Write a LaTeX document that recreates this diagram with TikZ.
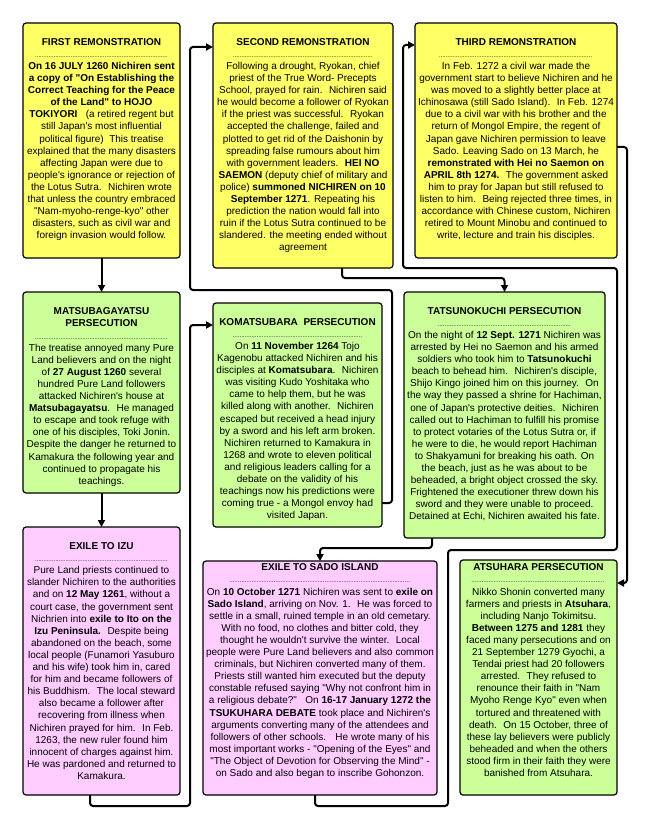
\documentclass[tikz,border=0pt]{standalone}
\usepackage{fontspec}
\newfontfamily\eventfont{Liberation Sans}
\usetikzlibrary{positioning, arrows.meta}
\definecolor{remyellow}{HTML}{FFFF66}
\definecolor{persgreen}{HTML}{CCFF99}
\definecolor{exilepink}{HTML}{FFCCFF}
\tikzset{
    event box/.style = {draw, line width=1.2pt, rounded corners=3pt, outer sep=0pt, inner sep=0pt, anchor=north west},
    remonstration/.style = {event box, fill=remyellow},
    persecution/.style = {event box, fill=persgreen},
    exile/.style = {event box, fill=exilepink},
    event text/.style = {inner sep=0pt, align=center, font=\eventfont\fontsize{10}{12.1}\selectfont},
}
\tikzset{
    flow/.style = {draw, line width=2pt, rounded corners=3pt, -{Triangle[length=7pt,width=7pt]}},
}
\newcommand{\dotrule}[1]{{\fontsize{7}{7}\selectfont\color{black!75}\leaders\hbox to 1.7pt{\hss.\hss}\hskip #1\relax}}

\begin{document}
\begin{tikzpicture}[x=1pt, y=1pt]
    \useasboundingbox (0,0) rectangle (650,-829);

    \node[remonstration, minimum width=157pt, minimum height=235pt] (first) at (23,-23) {};
    \node[remonstration, minimum width=180pt, minimum height=245pt] (second) at (213,-23) {};
    \node[remonstration, minimum width=202pt, minimum height=235pt] (third) at (415,-23) {};
    \node[persecution, minimum width=157pt, minimum height=201pt] (matsu) at (23,-292) {};
    \node[persecution, minimum width=169pt, minimum height=224pt] (komatsu) at (213,-303) {};
    \node[persecution, minimum width=201pt, minimum height=246pt] (tatsu) at (404,-292) {};
    \node[exile, minimum width=157pt, minimum height=268pt] (izu) at (23,-527) {};
    \node[exile, minimum width=234pt, minimum height=234pt] (sado) at (203,-561) {};
    \node[persecution, minimum width=157pt, minimum height=235pt] (atsu) at (460,-560) {};

    \node[event text, below=15.1pt of first.north] (firsttxt) {\textbf{FIRST REMONSTRATION}\\
        \dotrule{133pt}\\
        \textbf{On 16 JULY 1260 Nichiren sent}\\
        \textbf{a copy of "On Establishing the}\\
        \textbf{Correct Teaching for the Peace}\\
        \textbf{of the Land" to HOJO}\\
        \textbf{TOKIYORI}~~ (a retired regent but\\
        still Japan's most influential\\
        political figure)~ This treatise\\
        explained that the many disasters\\
        affecting Japan were due to\\
        people's ignorance or rejection of\\
        the Lotus Sutra.~ Nichiren wrote\\
        that unless the country embraced\\
        "Nam-myoho-renge-kyo" other\\
        disasters, such as civil war and\\
        foreign invasion would follow.};

    \node[event text, below=15.1pt of second.north] (secondtxt) {\textbf{SECOND REMONSTRATION}\\
        \dotrule{140pt}\\
        Following a drought, Ryokan, chief\\
        priest of the True Word- Precepts\\
        School, prayed for rain.~ Nichiren said\\
        he would become a follower of Ryokan\\
        if the priest was successful.~ Ryokan\\
        accepted the challenge, failed and\\
        plotted to get rid of the Daishonin by\\
        spreading false rumours about him\\
        with government leaders.~ \textbf{HEI NO}\\
        \textbf{SAEMON} (deputy chief of military and\\
        police) \textbf{summoned NICHIREN on 10}\\
        \textbf{September 1271}. Repeating his\\
        prediction the nation would fall into\\
        ruin if the Lotus Sutra continued to be\\
        slandered. the meeting ended without\\
        agreement};

    \node[event text, below=15.1pt of third.north] (thirdtxt) {\textbf{THIRD REMONSTRATION}\\
        \dotrule{154pt}\\
        In Feb. 1272 a civil war made the\\
        government start to believe Nichiren and he\\
        was moved to a slightly better place at\\
        Ichinosawa (still Sado Island).~ In Feb. 1274\\
        due to a civil war with his brother and the\\
        return of Mongol Empire, the regent of\\
        Japan gave Nichiren permission to leave\\
        Sado. Leaving Sado on 13 March, he\\
        \textbf{remonstrated with Hei no Saemon on}\\
        \textbf{APRIL 8th 1274.}~ The government asked\\
        him to pray for Japan but still refused to\\
        listen to him.~ Being rejected three times, in\\
        accordance with Chinese custom, Nichiren\\
        retired to Mount Minobu and continued to\\
        write, lecture and train his disciples.};

    \node[event text, below=15.7pt of matsu.north] (matsutxt) {\textbf{MATSUBAGAYATSU}\\
        \textbf{PERSECUTION}\\
        \dotrule{133pt}\\
        The treatise annoyed many Pure\\
        Land believers and on the night\\
        of \textbf{27 August 1260} several\\
        hundred Pure Land followers\\
        attacked Nichiren's house at\\
        \textbf{Matsubagayatsu}.~ He managed\\
        to escape and took refuge with\\
        one of his disciples, Toki Jonin.\\
        Despite the danger he returned to\\
        Kamakura the following year and\\
        continued to propagate his\\
        teachings.};

    \node[event text, below=15.1pt of komatsu.north] (komatsutxt) {\textbf{KOMATSUBARA~ PERSECUTION}\\
        \dotrule{132pt}\\
        On \textbf{11 November 1264} Tojo\\
        Kagenobu attacked Nichiren and his\\
        disciples at \textbf{Komatsubara}.~ Nichiren\\
        was visiting Kudo Yoshitaka who\\
        came to help them, but he was\\
        killed along with another.~ Nichiren\\
        escaped but received a head injury\\
        by a sword and his left arm broken.\\
        Nichiren returned to Kamakura in\\
        1268 and wrote to eleven political\\
        and religious leaders calling for a\\
        debate on the validity of his\\
        teachings now his predictions were\\
        coming true - a Mongol envoy had\\
        visited Japan.};

    \node[event text, below=15.1pt of tatsu.north] (tatsutxt) {\textbf{TATSUNOKUCHI PERSECUTION}\\
        \dotrule{134pt}\\
        On the night of \textbf{12 Sept. 1271} Nichiren was\\
        arrested by Hei no Saemon and his armed\\
        soldiers who took him to \textbf{Tatsunokuchi}\\
        beach to behead him.~ Nichiren's disciple,\\
        Shijo Kingo joined him on this journey.~ On\\
        the way they passed a shrine for Hachiman,\\
        one of Japan's protective deities.~ Nichiren\\
        called out to Hachiman to fulfill his promise\\
        to protect votaries of the Lotus Sutra or, if\\
        he were to die, he would report Hachiman\\
        to Shakyamuni for breaking his oath. On\\
        the beach, just as he was about to be\\
        beheaded, a bright object crossed the sky.\\
        Frightened the executioner threw down his\\
        sword and they were unable to proceed.\\
        Detained at Echi, Nichiren awaited his fate.};

    \node[event text, below=15.4pt of izu.north] (izutxt) {\textbf{EXILE TO IZU}\\
        \dotrule{133pt}\\
        Pure Land priests continued to\\
        slander Nichiren to the authorities\\
        and on \textbf{12 May 1261}, without a\\
        court case, the government sent\\
        Nichrien into \textbf{exile to Ito on the}\\
        \textbf{Izu Peninsula.}~ Despite being\\
        abandoned on the beach, some\\
        local people (Funamori Yasuburo\\
        and his wife) took him in, cared\\
        for him and became followers of\\
        his Buddhism.~ The local steward\\
        also became a follower after\\
        recovering from illness when\\
        Nichiren prayed for him.~ In Feb.\\
        1263, the new ruler found him\\
        innocent of charges against him.\\
        He was pardoned and returned to\\
        Kamakura.};

    \node[event text, below=2.7pt of sado.north] (sadotxt) {\textbf{EXILE TO SADO ISLAND}\\
        \dotrule{181pt}\\
        On \textbf{10 October 1271} Nichiren was sent to \textbf{exile on}\\
        \textbf{Sado Island}, arriving on Nov. 1.~ He was forced to\\
        settle in a small, ruined temple in an old cemetary.\\
        With no food, no clothes and bitter cold, they\\
        thought he wouldn't survive the winter.~ Local\\
        people were Pure Land believers and also common\\
        criminals, but Nichiren converted many of them.\\
        Priests still wanted him executed but the deputy\\
        constable refused saying "Why not confront him in\\
        a religious debate?"~~ On \textbf{16-17 January 1272 the}\\
        \textbf{TSUKUHARA DEBATE} took place and Nichiren's\\
        arguments converting many of the attendees and\\
        followers of other schools.~~ He wrote many of his\\
        most important works - "Opening of the Eyes" and\\
        "The Object of Devotion for Observing the Mind" -\\
        on Sado and also began to inscribe Gohonzon.};

    \node[event text, below=3.7pt of atsu.north] (atsutxt) {\textbf{ATSUHARA PERSECUTION}\\
        \dotrule{134pt}\\
        Nikko Shonin converted many\\
        farmers and priests in \textbf{Atsuhara},\\
        including Nanjo Tokimitsu.\\
        \textbf{Between 1275 and 1281} they\\
        faced many persecutions and on\\
        21 September 1279 Gyochi, a\\
        Tendai priest had 20 followers\\
        arrested.~ They refused to\\
        renounce their faith in "Nam\\
        Myoho Renge Kyo" even when\\
        tortured and threatened with\\
        death.~ On 15 October, three of\\
        these lay believers were publicly\\
        beheaded and when the others\\
        stood firm in their faith they were\\
        banished from Atsuhara.};

    \draw[flow] (first) -- (matsu);
    \draw[flow] (matsu) -- (izu);
    \draw[flow] ([xshift=-11.5pt]izu.south) -- ++(0,-11) -- ++(100,0) |- ([yshift=-22pt]komatsu.north west);
    \draw[flow] ([yshift=24pt]komatsu.south east) -- ++(10,0) -- ++(0,213) -- ++(-202,0) |- ([yshift=-24pt]second.north west);
    \draw[flow] ([xshift=39pt]second.south) -- ++(0,-10) -| (tatsu.north);
    \draw[flow] ([xshift=-72.5pt]tatsu.south) -- ++(0,-10) -| (sado.north);
    \draw[flow] ([xshift=-5pt]sado.south) -- ++(0,-11) -- ++(133,0) -- ++(0,256) -- ++(169,0) -- ++(0,282) -- ++(-214,0) |- ([yshift=-22pt]third.north west);
    \draw[flow] ([yshift=-124pt]third.north east) -- ++(10,0) |- ([yshift=-23pt]atsu.north east);
\end{tikzpicture}
\end{document}
